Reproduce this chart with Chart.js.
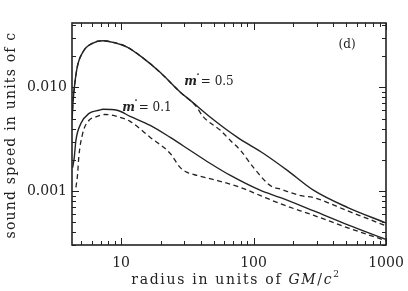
<!DOCTYPE html>
<html>
<head>
<meta charset="utf-8">
<script src="https://cdn.jsdelivr.net/npm/chart.js@4.4.1/dist/chart.umd.min.js"></script>
<style>
  html, body { margin: 0; padding: 0; background: #fff; }
  #wrap { width: 408px; height: 291px; }
</style>
</head>
<body>
<div id="wrap"><canvas id="myChart"></canvas></div>
<script>
// radius in units of GM/c^2, sound speed in units of c
const radiusSolid05 = [4.27, 4.33, 4.62, 5.15, 6.14, 7.31, 8.69, 11.1, 14.7, 19.7, 28.0, 33.3, 47.2, 75.6, 119, 181, 285, 515, 1000];
const speedSolid05  = [0.0050, 0.0070, 0.0147, 0.0220, 0.0269, 0.0283, 0.0273, 0.0246, 0.0192, 0.0140, 0.0090, 0.0075, 0.00515, 0.00329, 0.00230, 0.00157, 0.00101, 0.00069, 0.00049];

const radiusDash05 = [4.27, 4.33, 4.62, 5.15, 6.14, 7.31, 8.69, 11.1, 14.7, 19.7, 28.0, 36.4, 41.8, 56.2, 66.9, 79.8, 100, 134.6, 160, 227, 285, 515, 1000];
const speedDash05  = [0.0050, 0.0070, 0.0147, 0.0220, 0.0269, 0.0283, 0.0273, 0.0246, 0.0192, 0.0140, 0.0090, 0.0067, 0.0052, 0.00385, 0.00307, 0.00246, 0.00168, 0.00112, 0.00104, 0.00090, 0.00086, 0.00064, 0.00046];

const radiusSolid01 = [4.31, 4.43, 4.56, 4.98, 5.73, 6.81, 7.31, 9.33, 11.7, 16.6, 23.5, 33.3, 47.2, 66.9, 113, 160, 285, 515, 1000];
const speedSolid01  = [0.00168, 0.00210, 0.00308, 0.00450, 0.00562, 0.00602, 0.00615, 0.00602, 0.00526, 0.00430, 0.00329, 0.00246, 0.00184, 0.00141, 0.00101, 0.00086, 0.00064, 0.00047, 0.00034];

const radiusDash01 = [4.56, 4.70, 4.79, 5.13, 5.73, 6.36, 7.5, 10.4, 11.7, 16.6, 23.5, 28.0, 31.6, 37.7, 53.4, 79.8, 113, 160, 285, 515, 1000];
const speedDash01  = [0.00108, 0.00147, 0.00210, 0.00360, 0.00482, 0.00515, 0.00548, 0.00503, 0.00470, 0.00329, 0.00230, 0.00168, 0.00151, 0.00141, 0.00126, 0.00108, 0.00090, 0.00075, 0.00058, 0.00044, 0.00033];

const xTickValues = [10, 100, 1000];
const xTickText = ['10', '100', '1000'];
const yTickValues = [0.001, 0.01];
const yTickText = ['0.001', '0.010'];

const serif = '"DejaVu Serif", "Liberation Serif", serif';
const ink = '#222';

function pts(xs, ys) {
    return xs.map((x, i) => ({ x: x, y: ys[i] }));
}

// frame, inward ticks on all four sides, titles and labels
const decorations = {
    id: 'decorations',
    afterDatasetsDraw(chart) {
        const c = chart.ctx;
        const a = chart.chartArea;
        const xs = chart.scales.x, ys = chart.scales.y;
        c.save();
        c.strokeStyle = ink;
        c.lineWidth = 1;
        const logTicks = (s) => {
            const out = [];
            for (let d = Math.floor(Math.log10(s.min)); d <= Math.ceil(Math.log10(s.max)); d++) {
                for (let k = 1; k <= 9; k++) {
                    const v = k * Math.pow(10, d);
                    if (v >= s.min && v <= s.max) out.push({ v: v, major: k === 1 });
                }
            }
            return out;
        };
        c.beginPath();
        logTicks(xs).forEach(t => {
            const px = Math.round(xs.getPixelForValue(t.v)) + 0.5;
            const len = t.major ? 7 : 4;
            c.moveTo(px, a.bottom); c.lineTo(px, a.bottom - len);
            c.moveTo(px, a.top); c.lineTo(px, a.top + len);
        });
        logTicks(ys).forEach(t => {
            const py = Math.round(ys.getPixelForValue(t.v)) + 0.5;
            const len = t.major ? 7 : 4;
            c.moveTo(a.left, py); c.lineTo(a.left + len, py);
            c.moveTo(a.right, py); c.lineTo(a.right - len, py);
        });
        c.stroke();
        c.lineWidth = 1.6;
        c.strokeRect(a.left, a.top, a.right - a.left, a.bottom - a.top);

        c.fillStyle = ink;
        c.textBaseline = 'middle';

        // y title
        c.save();
        c.translate(11, 135);
        c.rotate(-Math.PI / 2);
        c.textAlign = 'center';
        c.letterSpacing = '1.2px';
        c.font = '14px ' + serif;
        c.fillText('sound speed in units of c', 0, 0);
        c.restore();

        // x title with italic GM/c and superscript 2
        c.save();
        c.letterSpacing = '1.7px';
        const parts = [
            { t: 'radius in units of ', f: '14px ' + serif, dy: 0 },
            { t: 'GM', f: 'italic 14px ' + serif, dy: 0 },
            { t: '/', f: '14px ' + serif, dy: 0 },
            { t: 'c', f: 'italic 14px ' + serif, dy: 0 },
            { t: '2', f: '9px ' + serif, dy: -5 }
        ];
        let total = 0;
        parts.forEach(p => { c.font = p.f; p.w = c.measureText(p.t).width; total += p.w; });
        let tx = 236 - total / 2;
        c.textAlign = 'left';
        parts.forEach(p => { c.font = p.f; c.fillText(p.t, tx, 280 + p.dy); tx += p.w; });
        c.restore();

        // curve labels
        const mLabel = (r, v, text) => {
            const px = xs.getPixelForValue(r);
            const py = ys.getPixelForValue(v);
            c.textAlign = 'left';
            c.font = 'italic bold 12px ' + serif;
            c.fillText('m', px, py);
            const mw = c.measureText('m').width;
            c.font = 'bold 12px ' + serif;
            c.fillText('\u02D9', px + mw - 2, py - 2);
            c.font = '12px ' + serif;
            c.fillText(text, px + mw, py);
        };
        mLabel(30, 0.0113, ' = 0.5');
        mLabel(10.2, 0.0063, ' = 0.1');

        c.font = '12px ' + serif;
        c.textAlign = 'center';
        c.fillText('(d)', xs.getPixelForValue(508), ys.getPixelForValue(0.0257));
        c.restore();
    }
};

const ctx = document.getElementById('myChart');

new Chart(ctx, {
    type: 'line',
    data: {
        datasets: [
            { data: pts(radiusSolid05, speedSolid05), borderColor: ink, borderWidth: 1.4 },
            { data: pts(radiusDash05, speedDash05), borderColor: ink, borderWidth: 1.3, borderDash: [5, 3.5] },
            { data: pts(radiusSolid01, speedSolid01), borderColor: ink, borderWidth: 1.4 },
            { data: pts(radiusDash01, speedDash01), borderColor: ink, borderWidth: 1.3, borderDash: [5, 3.5] }
        ]
    },
    options: {
        responsive: true,
        maintainAspectRatio: false,
        animation: false,
        layout: { padding: { top: 23, right: 22, left: 0, bottom: 0 } },
        elements: {
            point: { radius: 0 },
            line: { cubicInterpolationMode: 'monotone', fill: false }
        },
        plugins: {
            legend: { display: false },
            tooltip: { enabled: false }
        },
        scales: {
            x: {
                type: 'logarithmic',
                min: 4.26,
                max: 1000,
                grid: { display: false, drawTicks: false },
                border: { display: false },
                afterBuildTicks: (s) => { s.ticks = xTickValues.map(v => ({ value: v })); },
                afterFit: (s) => { s.height = 46; s.paddingLeft = 0; s.paddingRight = 0; },
                ticks: {
                    color: ink,
                    padding: 10,
                    maxRotation: 0,
                    font: { family: serif, size: 14 },
                    callback: (v) => xTickText[xTickValues.indexOf(v)]
                }
            },
            y: {
                type: 'logarithmic',
                min: 0.0003,
                max: 0.042,
                grid: { display: false, drawTicks: false },
                border: { display: false },
                afterBuildTicks: (s) => { s.ticks = yTickValues.map(v => ({ value: v })); },
                afterFit: (s) => { s.width = 72; s.paddingTop = 0; s.paddingBottom = 0; },
                ticks: {
                    color: ink,
                    padding: 5,
                    font: { family: serif, size: 14 },
                    callback: (v) => yTickText[yTickValues.indexOf(v)]
                }
            }
        }
    },
    plugins: [decorations]
});
</script>
</body>
</html>
